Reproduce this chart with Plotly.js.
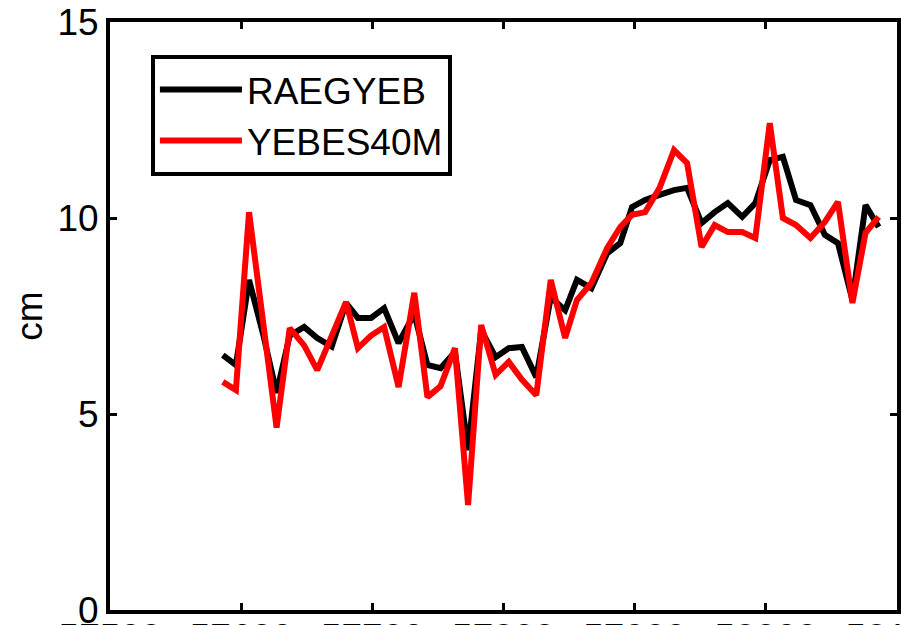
<!DOCTYPE html>
<html>
<head>
<meta charset="utf-8">
<script src="https://cdn.plot.ly/plotly-3.0.1.min.js"></script>
<style>
  html, body { margin: 0; padding: 0; background: #fff; }
  #chart { width: 901px; height: 625px; }
</style>
</head>
<body>
<div id="chart"></div>
<script>
// Session epochs (MJD)
const mjd = [57586, 57596, 57606, 57617, 57627, 57637, 57648, 57658, 57669, 57680,
             57689, 57699, 57709, 57720, 57732, 57742, 57752, 57763, 57773, 57783,
             57794, 57804, 57814, 57825, 57836, 57847, 57856, 57867, 57879, 57889,
             57898, 57908, 57919, 57930, 57940, 57951, 57961, 57971, 57982, 57992,
             58003, 58013, 58023, 58034, 58045, 58055, 58066, 58076, 58086];

// Values in cm per station
const raegyeb = [6.50, 6.25, 8.42, 7.00, 5.54, 7.00, 7.22, 6.94, 6.72, 7.83,
                 7.45, 7.45, 7.70, 6.81, 7.55, 6.25, 6.17, 6.58, 4.08, 7.14,
                 6.45, 6.68, 6.71, 5.94, 7.98, 7.65, 8.42, 8.21, 9.10, 9.36,
                 10.28, 10.46, 10.59, 10.71, 10.77, 9.87, 10.15, 10.38, 10.03, 10.38,
                 11.48, 11.56, 10.46, 10.33, 9.57, 9.36, 7.91, 10.33, 9.77];

const yebes40m = [5.82, 5.61, 10.15, 7.40, 4.65, 7.19, 6.75, 6.12, 7.00, 7.86,
                  6.68, 7.00, 7.22, 5.69, 8.09, 5.43, 5.71, 6.68, 2.68, 7.27,
                  6.00, 6.33, 5.88, 5.48, 8.42, 6.94, 7.91, 8.34, 9.23, 9.77,
                  10.08, 10.15, 10.77, 11.73, 11.40, 9.26, 9.82, 9.64, 9.64, 9.49,
                  12.42, 10.00, 9.82, 9.49, 9.90, 10.41, 7.83, 9.62, 10.03];

const seriesNames = ['RAEGYEB', 'YEBES40M'];
const xTickVals = [57500, 57600, 57700, 57800, 57900, 58000, 58100];
const xTickText = ['57500', '57600', '57700', '57800', '57900', '58000', '58100'];
const yTickVals = [0, 5, 10, 15];
const yTickText = ['0', '5', '10', '15'];

const FONT = 'Liberation Sans, Arial, sans-serif';

const traces = [
  {
    x: mjd, y: raegyeb, name: seriesNames[0], type: 'scatter', mode: 'lines',
    line: { color: '#000000', width: 6 }
  },
  {
    x: mjd, y: yebes40m, name: seriesNames[1], type: 'scatter', mode: 'lines',
    line: { color: '#ff0000', width: 6 }
  }
];

const axisCommon = {
  showgrid: false, zeroline: false,
  showline: true, linecolor: '#000', linewidth: 4,
  mirror: 'allticks', ticks: 'inside', ticklen: 7, tickwidth: 3, tickcolor: '#000',
  ticklabeloverflow: 'allow',
  tickfont: { family: FONT, size: 37, color: '#000' }
};

const layout = {
  width: 901, height: 625,
  margin: { l: 110, r: 4, t: 22, b: 15 },
  paper_bgcolor: '#fff', plot_bgcolor: '#fff',
  showlegend: true,
  legend: {
    x: 0.052, y: 0.944, xanchor: 'left', yanchor: 'top',
    bgcolor: '#fff', bordercolor: '#000', borderwidth: 4,
    font: { family: FONT, size: 37, color: '#000' },
    itemwidth: 82, tracegroupgap: 0
  },
  xaxis: Object.assign({}, axisCommon, {
    range: [57500, 58100],
    tickmode: 'array', tickvals: xTickVals, ticktext: xTickText,
    ticklabelstandoff: -8
  }),
  yaxis: Object.assign({}, axisCommon, {
    range: [0, 15],
    tickmode: 'array', tickvals: yTickVals, ticktext: yTickText,
    title: { text: 'cm', font: { family: FONT, size: 37, color: '#000' }, standoff: 4 }
  })
};

Plotly.newPlot('chart', traces, layout, { staticPlot: true, displayModeBar: false });
</script>
</body>
</html>
